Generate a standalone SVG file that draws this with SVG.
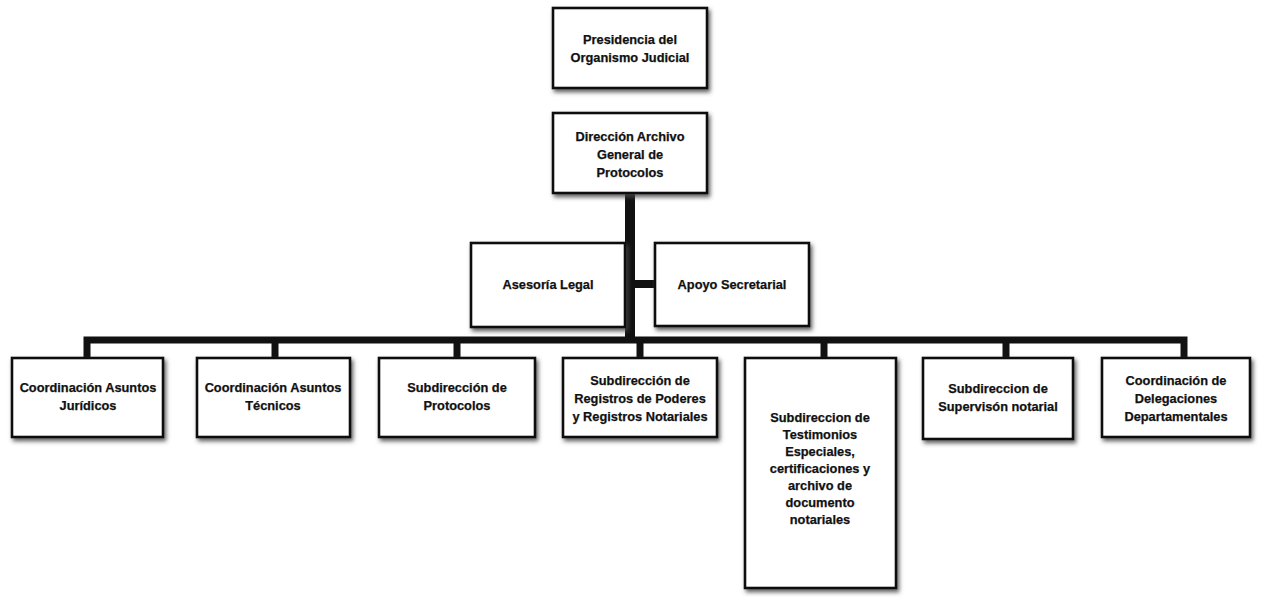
<svg xmlns="http://www.w3.org/2000/svg" width="1268" height="597" viewBox="0 0 1268 597">
<defs>
<filter id="sh" x="-10%" y="-10%" width="125%" height="130%">
<feDropShadow dx="2" dy="3" stdDeviation="2" flood-color="#444" flood-opacity="0.85"/>
</filter>
<style>
.box{fill:#fff;stroke:#111;stroke-width:2.6;filter:url(#sh)}
.t{font-family:"Liberation Sans",Arial,sans-serif;font-weight:bold;font-size:12.8px;fill:#111;text-anchor:middle;stroke:#111;stroke-width:0.25}
.c{stroke:#111;fill:none;stroke-linecap:butt}
</style>
</defs>
<rect width="1268" height="597" fill="#fff"/>
<g id="connectors">
<line class="c" x1="630" y1="192" x2="630" y2="343" stroke-width="10"/>
<line class="c" x1="630" y1="284" x2="655" y2="284" stroke-width="8"/>
<polyline class="c" points="87,359 87,340 1184,340 1184,359" stroke-width="7"/>
<line class="c" x1="275" y1="340" x2="275" y2="359" stroke-width="7"/>
<line class="c" x1="457" y1="340" x2="457" y2="359" stroke-width="7"/>
<line class="c" x1="640" y1="340" x2="640" y2="359" stroke-width="7"/>
<line class="c" x1="824" y1="340" x2="824" y2="359" stroke-width="7"/>
<line class="c" x1="1006" y1="340" x2="1006" y2="359" stroke-width="7"/>
</g>
<g id="presidencia">
<rect class="box" x="553" y="8" width="154" height="80"/>
<text class="t" x="630" y="44">Presidencia del</text>
<text class="t" x="630" y="62">Organismo Judicial</text>
</g>
<g id="direccion">
<rect class="box" x="553" y="113" width="154" height="80"/>
<text class="t" x="630" y="141">Dirección Archivo</text>
<text class="t" x="630" y="159">General de</text>
<text class="t" x="630" y="177">Protocolos</text>
</g>
<g id="asesoria">
<rect class="box" x="471" y="243" width="154" height="84"/>
<text class="t" x="548" y="289">Asesoría Legal</text>
</g>
<g id="apoyo">
<rect class="box" x="655" y="243" width="154" height="83"/>
<text class="t" x="732" y="289">Apoyo Secretarial</text>
</g>
<g id="juridicos">
<rect class="box" x="12" y="358" width="151" height="79"/>
<text class="t" x="88" y="392">Coordinación Asuntos</text>
<text class="t" x="88" y="410">Jurídicos</text>
</g>
<g id="tecnicos">
<rect class="box" x="197" y="358" width="153" height="79"/>
<text class="t" x="273" y="392">Coordinación Asuntos</text>
<text class="t" x="273" y="410">Técnicos</text>
</g>
<g id="protocolos">
<rect class="box" x="379" y="358" width="156" height="79"/>
<text class="t" x="457" y="392">Subdirección de</text>
<text class="t" x="457" y="410">Protocolos</text>
</g>
<g id="registros">
<rect class="box" x="563" y="358" width="154" height="79"/>
<text class="t" x="640" y="385">Subdirección de</text>
<text class="t" x="640" y="403">Registros de Poderes</text>
<text class="t" x="640" y="421">y Registros Notariales</text>
</g>
<g id="testimonios">
<rect class="box" x="745" y="358" width="151" height="230"/>
<text class="t" x="820" y="422">Subdireccion de</text>
<text class="t" x="820" y="439">Testimonios</text>
<text class="t" x="820" y="456">Especiales,</text>
<text class="t" x="820" y="473">certificaciones y</text>
<text class="t" x="820" y="490">archivo de</text>
<text class="t" x="820" y="507">documento</text>
<text class="t" x="820" y="524">notariales</text>
</g>
<g id="supervision">
<rect class="box" x="923" y="358" width="150" height="81"/>
<text class="t" x="998" y="393">Subdireccion de</text>
<text class="t" x="998" y="411">Supervisón notarial</text>
</g>
<g id="delegaciones">
<rect class="box" x="1102" y="358" width="148" height="79"/>
<text class="t" x="1176" y="385">Coordinación de</text>
<text class="t" x="1176" y="403">Delegaciones</text>
<text class="t" x="1176" y="421">Departamentales</text>
</g>
</svg>
